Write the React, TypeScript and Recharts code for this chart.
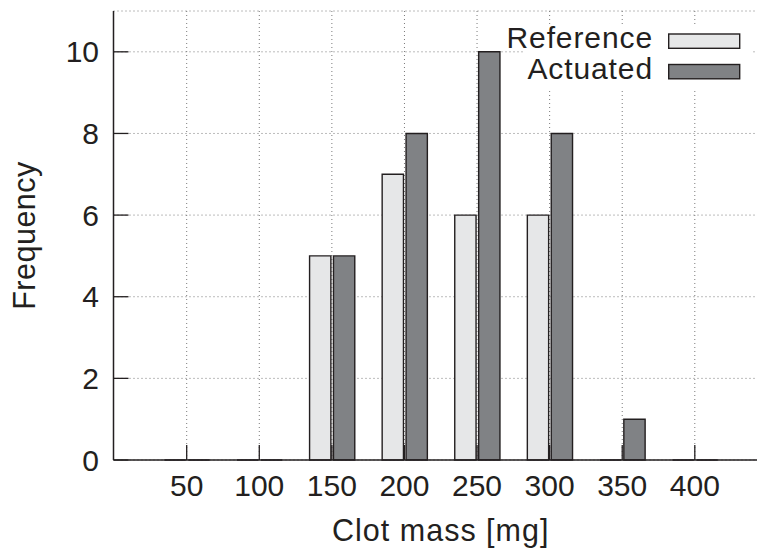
import React from 'react';
import { BarChart, Bar, XAxis, YAxis, CartesianGrid, Legend } from 'recharts';

const massLabels = ['50', '100', '150', '200', '250', '300', '350', '400'];
const referenceCounts = [0, 0, 5, 7, 6, 6, 0, 0];
const actuatedCounts = [0, 0, 5, 8, 10, 8, 1, 0];
const yTicks = [0, 2, 4, 6, 8, 10];
const seriesNames = ['Reference', 'Actuated'];

const data = massLabels.map((m, i) => ({
  mass: m,
  reference: referenceCounts[i],
  actuated: actuatedCounts[i],
}));

const INK = '#231f20';
const FONT = '"Liberation Sans", Arial, Helvetica, sans-serif';
const LIGHT = '#e6e7e8';
const DARK = '#808285';

function HistBar(props: any) {
  const { x, y, width, height, fill } = props;
  if (x == null || !isFinite(x) || !isFinite(y)) return null;
  const h = Math.max(0, height || 0);
  return (
    <path
      d={`M${x},${y}h${width}v${h}h${-width}Z`}
      fill={fill}
      stroke={INK}
      strokeWidth={1.4}
    />
  );
}

function KeyContent() {
  const fills = [LIGHT, DARK];
  return (
    <svg width={230} height={61} style={{ overflow: 'visible', display: 'block' }}>
      <rect x={0} y={0} width={230} height={61} fill="#ffffff" />
      {seriesNames.map((name, i) => (
        <g key={name}>
          <text
            x={130}
            y={20.5 + i * 31}
            textAnchor="end"
            fontFamily={FONT}
            fontSize={30}
            fill={INK}
            style={{ letterSpacing: 0.9 }}
          >
            {name}
          </text>
          <rect
            x={145.7}
            y={7 + i * 30.5}
            width={71}
            height={14.3}
            fill={fills[i]}
            stroke={INK}
            strokeWidth={1.4}
          />
        </g>
      ))}
    </svg>
  );
}

const tickStyle = { fontFamily: FONT, fontSize: 30, fill: INK };

export default function App() {
  return (
    <div
      style={{
        position: 'fixed',
        left: 0,
        top: 0,
        width: 757,
        height: 550,
        overflow: 'hidden',
        background: '#ffffff',
      }}
    >
      <BarChart
        width={780}
        height={550}
        data={data}
        margin={{ top: 11, right: 12, bottom: 0, left: 0 }}
        barSize={21.3}
        barGap={2.6}
      >
        <CartesianGrid stroke="#7a7a7a" strokeDasharray="1 3" strokeWidth={1} />
        <Bar
          dataKey="reference"
          name="Reference"
          fill={LIGHT}
          isAnimationActive={false}
          shape={HistBar}
        />
        <Bar
          dataKey="actuated"
          name="Actuated"
          fill={DARK}
          isAnimationActive={false}
          shape={HistBar}
        />
        <XAxis
          dataKey="mass"
          type="category"
          height={90}
          padding={{ left: 36.9, right: 36.9 }}
          tickSize={-15}
          tickMargin={30}
          tick={tickStyle}
          axisLine={{ stroke: INK, strokeWidth: 1.5 }}
          tickLine={{ stroke: INK, strokeWidth: 1.3 }}
          interval={0}
          label={{
            value: 'Clot mass [mg]',
            position: 'insideBottom',
            offset: 9,
            style: { fontFamily: FONT, fontSize: 30.5, fill: INK, letterSpacing: 1 },
          }}
        />
        <XAxis
          xAxisId="top"
          dataKey="mass"
          type="category"
          orientation="top"
          height={0}
          padding={{ left: 36.9, right: 36.9 }}
          tickSize={-15}
          tick={false}
          axisLine={{ stroke: INK, strokeWidth: 1.5 }}
          tickLine={{ stroke: INK, strokeWidth: 1.3 }}
          interval={0}
        />
        <YAxis
          type="number"
          domain={[0, 11]}
          ticks={yTicks}
          width={113.5}
          tickSize={-15}
          tickMargin={29.5}
          tick={tickStyle}
          axisLine={{ stroke: INK, strokeWidth: 1.5 }}
          tickLine={{ stroke: INK, strokeWidth: 1.3 }}
          label={{
            value: 'Frequency',
            angle: -90,
            position: 'insideLeft',
            offset: 24,
            style: { fontFamily: FONT, fontSize: 30.5, fill: INK, textAnchor: 'middle', letterSpacing: 0.5 },
          }}
        />
        <YAxis
          yAxisId="right"
          type="number"
          orientation="right"
          domain={[0, 11]}
          ticks={yTicks}
          width={0}
          tickSize={-15}
          tick={false}
          allowDataOverflow
          axisLine={{ stroke: INK, strokeWidth: 1.5 }}
          tickLine={{ stroke: INK, strokeWidth: 1.3 }}
        />
        <Legend
          layout="horizontal"
          verticalAlign="middle"
          align="center"
          wrapperStyle={{ left: 523, top: 27, width: 230, height: 61 }}
          content={() => <KeyContent />}
        />
      </BarChart>
    </div>
  );
}
